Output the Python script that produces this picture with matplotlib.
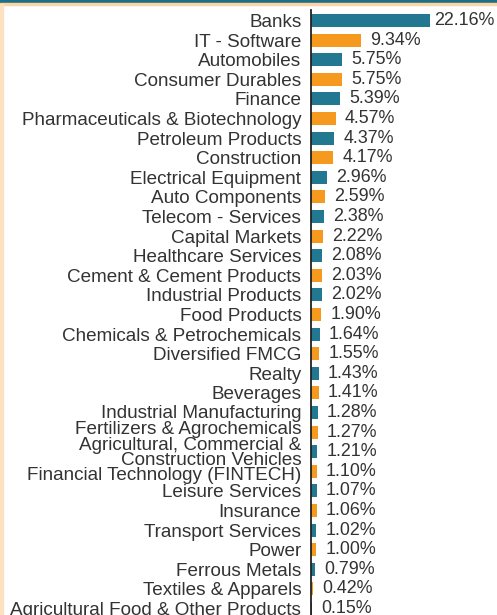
import matplotlib
matplotlib.use("Agg")
import matplotlib.pyplot as plt
from matplotlib.patches import Rectangle
from matplotlib.transforms import ScaledTranslation

categories = [
    "Banks", "IT - Software", "Automobiles", "Consumer Durables", "Finance",
    "Pharmaceuticals & Biotechnology", "Petroleum Products", "Construction",
    "Electrical Equipment", "Auto Components", "Telecom - Services",
    "Capital Markets", "Healthcare Services", "Cement & Cement Products",
    "Industrial Products", "Food Products", "Chemicals & Petrochemicals",
    "Diversified FMCG", "Realty", "Beverages", "Industrial Manufacturing",
    "Fertilizers & Agrochemicals",
    "Agricultural, Commercial &\nConstruction Vehicles",
    "Financial Technology (FINTECH)", "Leisure Services", "Insurance",
    "Transport Services", "Power", "Ferrous Metals", "Textiles & Apparels",
    "Agricultural Food & Other Products",
]
values = [22.16, 9.34, 5.75, 5.75, 5.39, 4.57, 4.37, 4.17, 2.96, 2.59, 2.38,
          2.22, 2.08, 2.03, 2.02, 1.90, 1.64, 1.55, 1.43, 1.41, 1.28, 1.27,
          1.21, 1.10, 1.07, 1.06, 1.02, 1.00, 0.79, 0.42, 0.15]
value_labels = [f"{v:.2f}%" for v in values]

TEAL = "#227891"
ORANGE = "#F59A1F"
TEXT = "#333333"

plt.rcParams['font.family'] = ['Liberation Sans', 'DejaVu Sans']

W, H = 497, 615
fig = plt.figure(figsize=(W / 100, H / 100), dpi=100)
fig.patch.set_facecolor("white")

ax_left = 311 / W
ax_top = 1 - 10 / H
ax = fig.add_axes([ax_left, 0, 1 - ax_left, ax_top])
ax.set_facecolor("none")

n = len(categories)
ypos = list(range(n))
colors = [TEAL if i % 2 == 0 else ORANGE for i in range(n)]
ax.barh(ypos, values, height=0.66, color=colors, zorder=2)

row_px = 19.6
top = -0.536
ax.set_ylim(top + (H - 10) / row_px, top)
px_per_unit = 5.37
ax.set_xlim(0, (W - 311) / px_per_unit)

ax.set_yticks(ypos)
ax.set_yticklabels(categories, fontsize=13.6, color=TEXT, linespacing=0.85)
ax.tick_params(axis='y', length=0, pad=7)
ax.set_xticks([])

# small vertical nudges of crowded labels (pixels, positive = up)
label_nudge = {
    "Industrial Manufacturing": 1.5,
    "Fertilizers & Agrochemicals": 5,
    "Financial Technology (FINTECH)": -2,
}
for lbl in ax.get_yticklabels():
    d = label_nudge.get(lbl.get_text(), 0)
    if d:
        lbl.set_transform(lbl.get_transform() +
                          ScaledTranslation(0, d / 100, fig.dpi_scale_trans))

for s in ["top", "right", "bottom"]:
    ax.spines[s].set_visible(False)
ax.spines["left"].set_color("#222222")
ax.spines["left"].set_linewidth(1.3)

vmax = max(values)
for i, (v, lab) in enumerate(zip(values, value_labels)):
    off = 3 if v == vmax else 6.5
    ax.annotate(lab, xy=(v, i), xytext=(off, 0), textcoords="offset points",
                ha="left", va="center", fontsize=12.9, color=TEXT)

# frame decorations
fig.patches.append(Rectangle((0, 1 - 3.5 / H), 1, 3.5 / H, transform=fig.transFigure,
                             color="#1f6f86", zorder=5))
fig.patches.append(Rectangle((0, 1 - 5 / H), 1, 1.5 / H, transform=fig.transFigure,
                             color="#fbd6a4", zorder=5))
fig.patches.append(Rectangle((0, 0), 2.5 / W, 1 - 3.5 / H, transform=fig.transFigure,
                             color="#fde2c2", zorder=5))

fig.savefig("out.png", dpi=100)
